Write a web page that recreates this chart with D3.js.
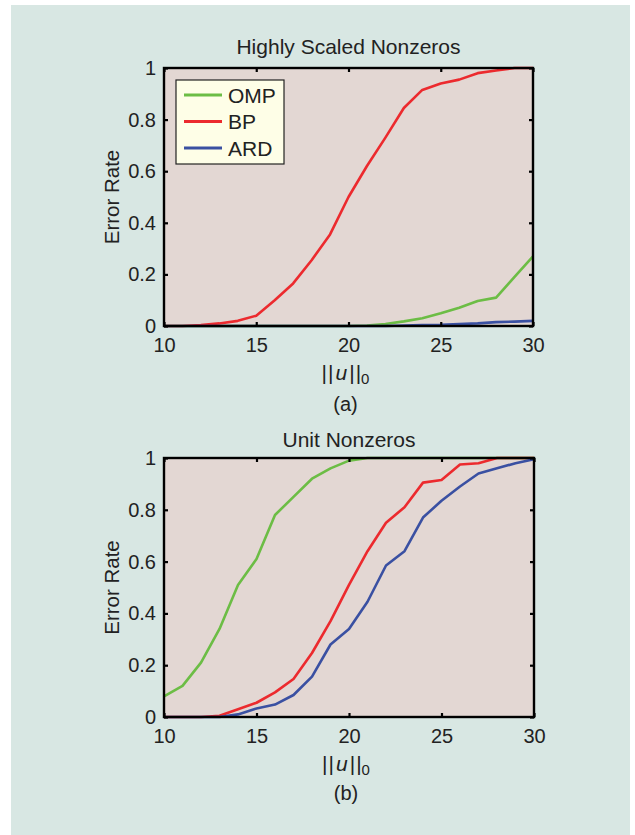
<!DOCTYPE html>
<html>
<head>
<meta charset="utf-8">
<script src="https://cdn.jsdelivr.net/npm/d3@7"></script>
<style>
  body { margin: 0; background: #ffffff; }
  text { font-family: "Liberation Sans", Arial, sans-serif; fill: #222; }
</style>
</head>
<body>
<svg id="fig" width="635" height="835"></svg>
<script>
// valores de ||u||_0
const sparsity = [10, 11, 12, 13, 14, 15, 16, 17, 18, 19, 20, 21, 22, 23, 24, 25, 26, 27, 28, 29, 30];

// (a) Highly Scaled Nonzeros
const ompA = [0, 0, 0, 0, 0, 0, 0, 0, 0, 0, 0, 0.002, 0.008, 0.018, 0.03, 0.049, 0.071, 0.097, 0.11, 0.19, 0.27];
const bpA  = [0, 0, 0.004, 0.01, 0.02, 0.04, 0.1, 0.165, 0.255, 0.355, 0.5, 0.62, 0.73, 0.845, 0.915, 0.94, 0.955, 0.98, 0.99, 1.0, 1.0];
const ardA = [0, 0, 0, 0, 0, 0, 0, 0, 0, 0, 0, 0, 0, 0.002, 0.004, 0.005, 0.008, 0.01, 0.015, 0.017, 0.02];

// (b) Unit Nonzeros
const ompB = [0.08, 0.12, 0.21, 0.34, 0.51, 0.61, 0.78, 0.85, 0.92, 0.96, 0.99, 1.0, 1.0, 1.0, 1.0, 1.0, 1.0, 1.0, 1.0, 1.0, 1.0];
const bpB  = [0, 0, 0, 0.005, 0.03, 0.055, 0.095, 0.147, 0.247, 0.37, 0.51, 0.64, 0.75, 0.81, 0.905, 0.915, 0.975, 0.98, 1.0, 1.0, 1.0];
const ardB = [0, 0, 0, 0, 0.01, 0.033, 0.048, 0.085, 0.156, 0.28, 0.34, 0.445, 0.585, 0.64, 0.77, 0.835, 0.89, 0.94, 0.96, 0.98, 0.995];

const xTicks = [10, 15, 20, 25, 30];
const yTicks = [0, 0.2, 0.4, 0.6, 0.8, 1];
const seriesNames = ["OMP", "BP", "ARD"];
const colores = {OMP: "#6cbd45", BP: "#ec2a2e", ARD: "#3a50a2"};

const svg = d3.select("#fig");

// fondo
svg.append("rect").attr("x", 11).attr("y", 5).attr("width", 619).attr("height", 830).attr("fill", "#d8e7e3");

function dibujarPanel(cfg) {
    const x = d3.scaleLinear().domain([10, 30]).range([0, cfg.w]);
    const y = d3.scaleLinear().domain([0, 1]).range([cfg.h, 0]);

    const g = svg.append("g").attr("transform", "translate(" + cfg.left + "," + cfg.top + ")");

    g.append("rect").attr("width", cfg.w).attr("height", cfg.h).attr("fill", "#e3d7d3");

    // curvas
    const line = d3.line().x((d, i) => x(sparsity[i])).y(d => y(d));
    cfg.series.forEach((vals, k) => {
        g.append("path")
            .datum(vals)
            .attr("d", line)
            .attr("fill", "none")
            .attr("stroke", colores[seriesNames[k]])
            .attr("stroke-width", 2.6)
            .attr("stroke-linejoin", "round");
    });

    // ejes con ticks hacia dentro
    g.append("g").attr("transform", "translate(0," + cfg.h + ")")
        .call(d3.axisBottom(x).tickValues(xTicks).tickSize(-4).tickPadding(12).tickFormat(d3.format("d")));
    g.append("g")
        .call(d3.axisLeft(y).tickValues(yTicks).tickSize(-4).tickPadding(8).tickFormat(d => d === 0 || d === 1 ? d : d.toFixed(1)));
    g.append("g").call(d3.axisTop(x).tickValues(xTicks).tickSize(-4).tickFormat(""));
    g.append("g").attr("transform", "translate(" + cfg.w + ",0)")
        .call(d3.axisRight(y).tickValues(yTicks).tickSize(-4).tickFormat(""));

    g.selectAll(".domain").remove();
    g.selectAll(".tick line").attr("stroke", "#000").attr("stroke-width", 2.2);
    g.selectAll(".tick text").style("font-size", "20px").style("fill", "#222");

    g.append("rect").attr("width", cfg.w).attr("height", cfg.h)
        .attr("fill", "none").attr("stroke", "#000").attr("stroke-width", 2.4);

    // título
    g.append("text").attr("x", cfg.w / 2).attr("y", cfg.titleY)
        .attr("text-anchor", "middle").style("font-size", "21px").text(cfg.title);

    // etiqueta y
    g.append("text")
        .attr("transform", "translate(-45," + (cfg.h / 2) + ") rotate(-90)")
        .attr("text-anchor", "middle").style("font-size", "20.5px").text("Error Rate");

    // etiqueta x  ||u||_0
    const xl = g.append("text").attr("x", cfg.w / 2 - 3).attr("y", cfg.h + cfg.xlabY)
        .attr("text-anchor", "middle").style("font-size", "21px");
    xl.append("tspan").text("|");
    xl.append("tspan").attr("dx", 1).text("|");
    xl.append("tspan").attr("dx", 2).style("font-style", "italic").text("u");
    xl.append("tspan").attr("dx", 2).text("|");
    xl.append("tspan").attr("dx", 1).text("|");
    xl.append("tspan").attr("dy", 4).style("font-size", "15px").text("0");

    g.append("text").attr("x", cfg.w / 2 - 3).attr("y", cfg.h + cfg.capY)
        .attr("text-anchor", "middle").style("font-size", "20px").text(cfg.caption);

    return g;
}

const gA = dibujarPanel({left: 164, top: 68, w: 369, h: 258, series: [ompA, bpA, ardA],
    title: "Highly Scaled Nonzeros", titleY: -14, xlabY: 54, capY: 85, caption: "(a)"});

dibujarPanel({left: 164, top: 458, w: 370, h: 259, series: [ompB, bpB, ardB],
    title: "Unit Nonzeros", titleY: -11, xlabY: 54, capY: 83, caption: "(b)"});

// leyenda
const leg = gA.append("g").attr("transform", "translate(12,12)");
leg.append("rect").attr("width", 108).attr("height", 84)
    .attr("fill", "#fefee7").attr("stroke", "#222").attr("stroke-width", 1.2);
seriesNames.forEach((n, i) => {
    const yy = 15 + i * 26.5;
    leg.append("line").attr("x1", 8).attr("x2", 46).attr("y1", yy).attr("y2", yy)
        .attr("stroke", colores[n]).attr("stroke-width", 3);
    leg.append("text").attr("x", 52).attr("y", yy + 7.5).style("font-size", "21px").text(n);
});
</script>
</body>
</html>
